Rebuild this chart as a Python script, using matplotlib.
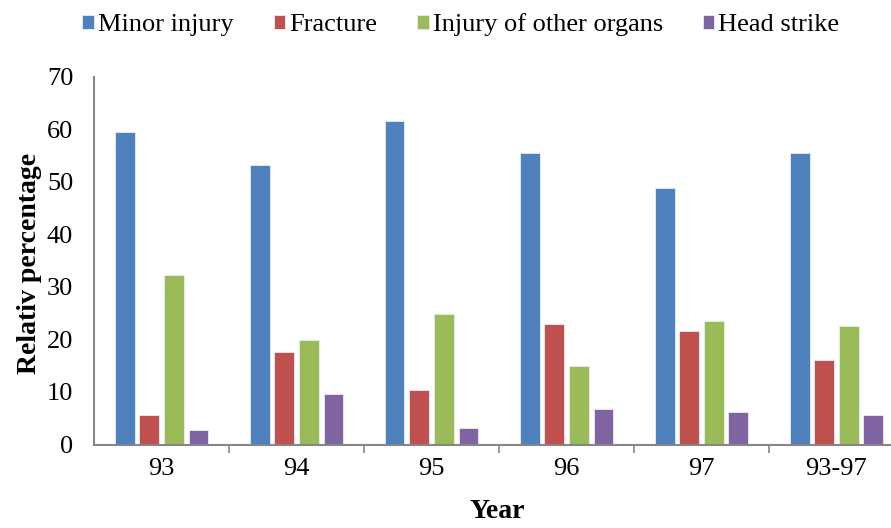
import numpy as np
import matplotlib.pyplot as plt

# categories and series
years = ['93', '94', '95', '96', '97', '93-97']
minor_injury = [59.5, 53.1, 61.5, 55.5, 48.7, 55.4]
fracture = [5.6, 17.6, 10.4, 22.9, 21.5, 16.1]
other_organs = [32.2, 19.8, 24.9, 14.9, 23.5, 22.6]
head_strike = [2.8, 9.6, 3.2, 6.7, 6.2, 5.7]

series = [
    ('Minor injury', minor_injury, '#4F81BD'),
    ('Fracture', fracture, '#C0504D'),
    ('Injury of other organs', other_organs, '#9BBB59'),
    ('Head strike', head_strike, '#8064A2'),
]

plt.rcParams['font.family'] = ['Liberation Serif', 'DejaVu Serif']

fig = plt.figure(figsize=(8.91, 5.28), dpi=100)
ax = fig.add_axes([94 / 891, 1 - 444.5 / 528, 810 / 891, 368 / 528])

x = np.arange(len(years))
step = 0.182
width = 0.146
for i, (name, vals, col) in enumerate(series):
    ax.bar(x + (i - 1.5) * step, vals, width, color=col, label=name,
           edgecolor='#e8eef6', linewidth=0.6)

ax.set_xlim(-0.5, len(years) - 0.5)
ax.set_ylim(0, 70)
ax.set_yticks(range(0, 71, 10))
ax.set_xticks(x)
ax.set_xticklabels(years)
ax.set_xticks(np.arange(0.5, len(years), 1.0), minor=True)
ax.tick_params(axis='x', which='major', length=0, labelsize=19, pad=10)
ax.tick_params(axis='x', which='minor', length=6, width=1.2, color='#868686')
ax.tick_params(axis='y', length=0, labelsize=19, pad=15)

for side in ['top', 'right']:
    ax.spines[side].set_visible(False)
for side in ['left', 'bottom']:
    ax.spines[side].set_color('#868686')
    ax.spines[side].set_linewidth(1.5)

fig.text(30 / 891, 1 - 263 / 528, 'Relativ percentage', fontsize=20,
         fontweight='bold', rotation=90, ha='center', va='center')
fig.text(497 / 891, 1 - 512 / 528, 'Year', fontsize=20, fontweight='bold',
         ha='center', va='center')

fig.legend(loc='center', bbox_to_anchor=(461 / 891, 1 - 25 / 528), ncol=4,
           frameon=False, fontsize=19, handlelength=0.45, handleheight=0.45,
           handletextpad=0.15, columnspacing=1.5)

fig.savefig('out.png', dpi=100)
